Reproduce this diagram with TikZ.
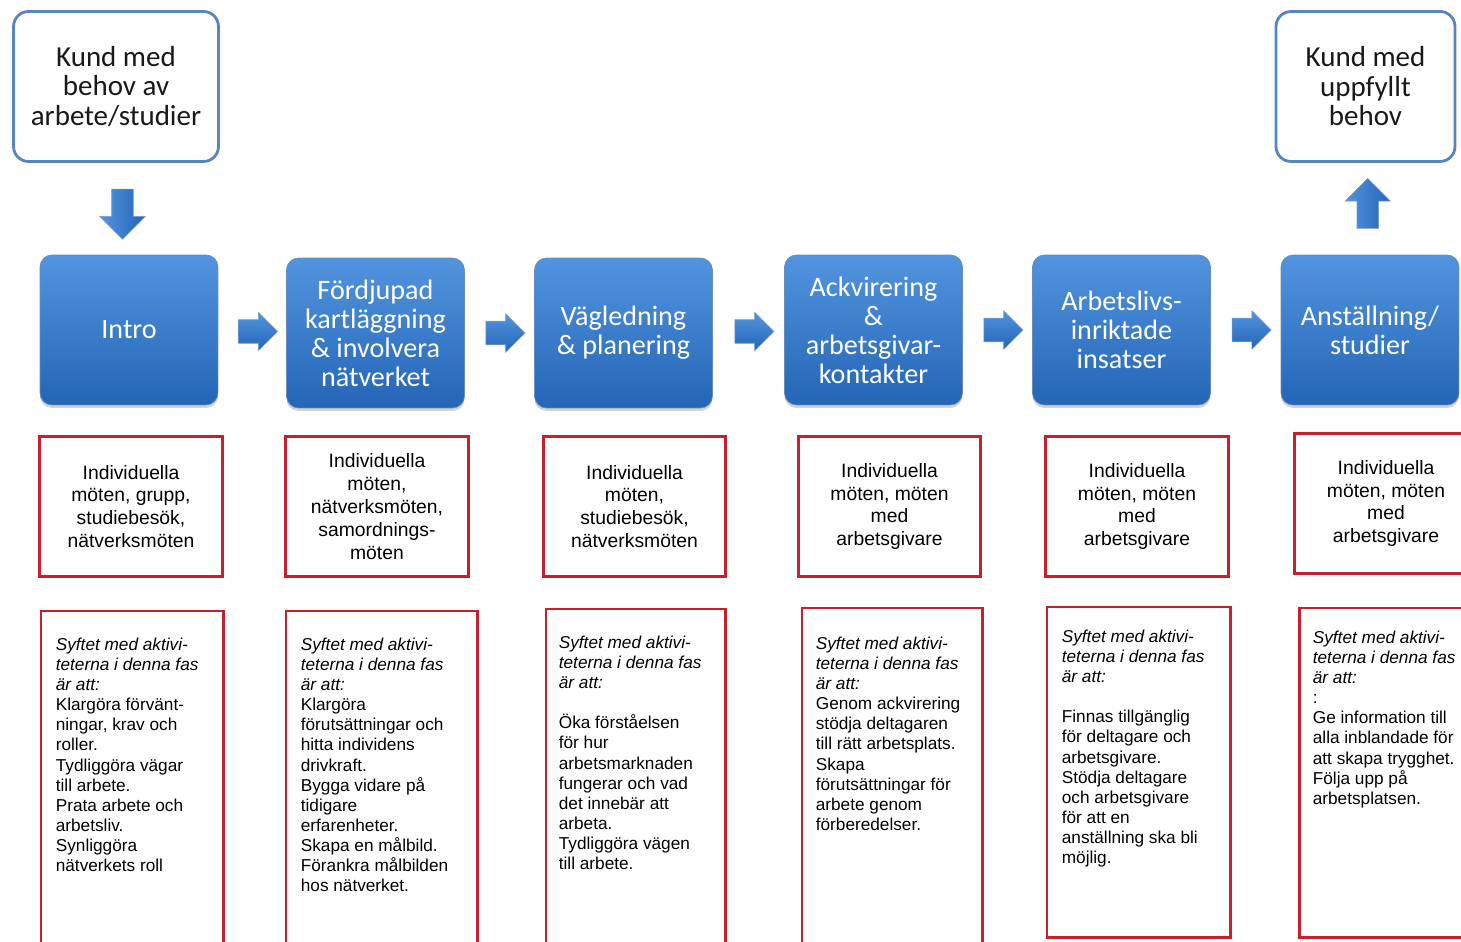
\documentclass[tikz,border=0pt]{standalone}
\usepackage{fontspec}
\newfontfamily\calibri{Carlito}
\newfontfamily\arial{Liberation Sans}
\usepackage{tikz}
\usetikzlibrary{shapes, arrows.meta, calc, positioning, shadows}

\definecolor{phasetop}{RGB}{82,148,222}
\definecolor{phasebot}{RGB}{36,102,182}
\definecolor{phaseline}{RGB}{40,92,156}
\definecolor{kundline}{RGB}{88,132,192}
\definecolor{boxred}{RGB}{198,32,44}

\newcommand{\syftet}{\textit{Syftet med aktivi-}\\\textit{teterna i denna fas}\\\textit{är att:}}

\tikzset{
  kund/.style={draw=kundline, line width=1.6pt, rounded corners=0.3cm, fill=white,
    minimum width=4.1cm, minimum height=3.0cm, align=center, text=black!90,
    font=\calibri\fontsize{16.5}{16.8}\selectfont},
  phase/.style={rounded corners=0.24cm, top color=phasetop, bottom color=phasebot,
    draw=phaseline!70, minimum width=3.56cm, minimum height=3.0cm, align=center,
    text=white, font=\calibri\fontsize{16}{16.5}\selectfont,
    drop shadow={shadow xshift=0pt, shadow yshift=-0.06cm, opacity=0.35}},
  flow/.style={single arrow, single arrow head extend=0.15cm, minimum height=0.78cm,
    inner xsep=0pt, inner ysep=0.23cm, top color=phasetop, bottom color=phasebot,
    draw=phaseline!60, line width=0.3pt},
  flowv/.style={flow, single arrow head extend=0.24cm, inner ysep=0.21cm, minimum height=1.0cm,
    left color=phasetop, right color=phasebot},
  meet/.style={draw=boxred, line width=1.7pt, minimum width=3.66cm, minimum height=2.8cm,
    align=center, font=\arial\fontsize{11}{13}\selectfont},
  goal/.style={draw=boxred, line width=1.7pt, minimum height=6.9cm, anchor=north west, inner sep=0pt},
  goaltext/.style={anchor=north west, align=left, inner sep=0pt,
    font=\arial\fontsize{9.8}{11.45}\selectfont},
}

\begin{document}
\begin{tikzpicture}[x=0.02cm, y=-0.02cm]
  \useasboundingbox (0,0) rectangle (1461,942);
  \clip (0,0) rectangle (1461,942);

  \node[kund] (start) at (116,86.5) {Kund med\\behov av\\arbete/studier};
  \node[kund, minimum width=3.58cm] (done) at (1365.5,86.5) {Kund med\\uppfyllt\\behov};

  \node[phase] (intro) at (129,330) {Intro};
  \node[phase] (kartl) at (375.5,333) {Fördjupad\\kartläggning\\\& involvera\\nätverket};
  \node[phase] (vagl) at (623.5,333) {Vägledning\\\& planering};
  \node[phase] (ackv) at (873.5,330) {Ackvirering\\\&\\arbetsgivar-\\kontakter};
  \node[phase] (insats) at (1121.5,330) {Arbetslivs-\\inriktade\\insatser};
  \node[phase] (anst) at (1370,330) {Anställning/\\studier};

  \node[flowv, rotate=-90] (down) at ($(start.south)!0.5!(intro.north)$) {};
  \node[flowv, rotate=90] (up) at ($(anst.north)!0.5!(done.south)$) {};
  \node[flow] (f1) at ($(intro.east)!0.5!(kartl.west)$) {};
  \node[flow] (f2) at ($(kartl.east)!0.5!(vagl.west)$) {};
  \node[flow] (f3) at ($(vagl.east)!0.5!(ackv.west)$) {};
  \node[flow] (f4) at ($(ackv.east)!0.5!(insats.west)$) {};
  \node[flow] (f5) at ($(insats.east)!0.5!(anst.west)$) {};

  \node[meet] (m1) at (131,506.5) {Individuella\\möten, grupp,\\studiebesök,\\nätverksmöten};
  \node[meet] (m2) at (377,506.5) {Individuella\\möten,\\nätverksmöten,\\samordnings-\\möten};
  \node[meet] (m3) at (634.5,506.5) {Individuella\\möten,\\studiebesök,\\nätverksmöten};
  \node[meet] (m4) at (889.5,506.5) {Individuella\\möten, möten\\med\\arbetsgivare};
  \node[meet] (m5) at (1137,506.5) {Individuella\\möten, möten\\med\\arbetsgivare};
  \node[meet] (m6) at (1386,503.5) {Individuella\\möten, möten\\med\\arbetsgivare};

  \node[goal, minimum width=3.66cm] (g1) at (39.5,609.5) {};
  \node[goal, minimum width=3.84cm] (g2) at (284.5,609.5) {};
  \node[goal, minimum width=3.6cm] (g3) at (544.5,607.5) {};
  \node[goal, minimum width=3.62cm] (g4) at (800.5,606.5) {};
  \node[goal, minimum width=3.68cm, minimum height=6.62cm] (g5) at (1045.5,605.5) {};
  \node[goal, minimum width=3.66cm, minimum height=6.6cm] (g6) at (1297.5,606.5) {};

  \node[goaltext] (t1) at ($(g1.north west)+(16,28)$)
    {\syftet\\Klargöra förvänt-\\ningar, krav och\\roller.\\Tydliggöra vägar\\till arbete.\\Prata arbete och\\arbetsliv.\\Synliggöra\\nätverkets roll};
  \node[goaltext] (t2) at ($(g2.north west)+(16,28)$)
    {\syftet\\Klargöra\\förutsättningar och\\hitta individens\\drivkraft.\\Bygga vidare på\\tidigare\\erfarenheter.\\Skapa en målbild.\\Förankra målbilden\\hos nätverket.};
  \node[goaltext] (t3) at ($(g3.north west)+(14,28)$)
    {\syftet\\[11.45pt]Öka förståelsen\\för hur\\arbetsmarknaden\\fungerar och vad\\det innebär att\\arbeta.\\Tydliggöra vägen\\till arbete.};
  \node[goaltext] (t4) at ($(g4.north west)+(15,30)$)
    {\syftet\\Genom ackvirering\\stödja deltagaren\\till rätt arbetsplats.\\Skapa\\förutsättningar för\\arbete genom\\förberedelser.};
  \node[goaltext] (t5) at ($(g5.north west)+(16,24)$)
    {\syftet\\[11.45pt]Finnas tillgänglig\\för deltagare och\\arbetsgivare.\\Stödja deltagare\\och arbetsgivare\\för att en\\anställning ska bli\\möjlig.};
  \node[goaltext] (t6) at ($(g6.north west)+(15,24)$)
    {\syftet\\:\\Ge information till\\alla inblandade för\\att skapa trygghet.\\Följa upp på\\arbetsplatsen.};
\end{tikzpicture}
\end{document}
